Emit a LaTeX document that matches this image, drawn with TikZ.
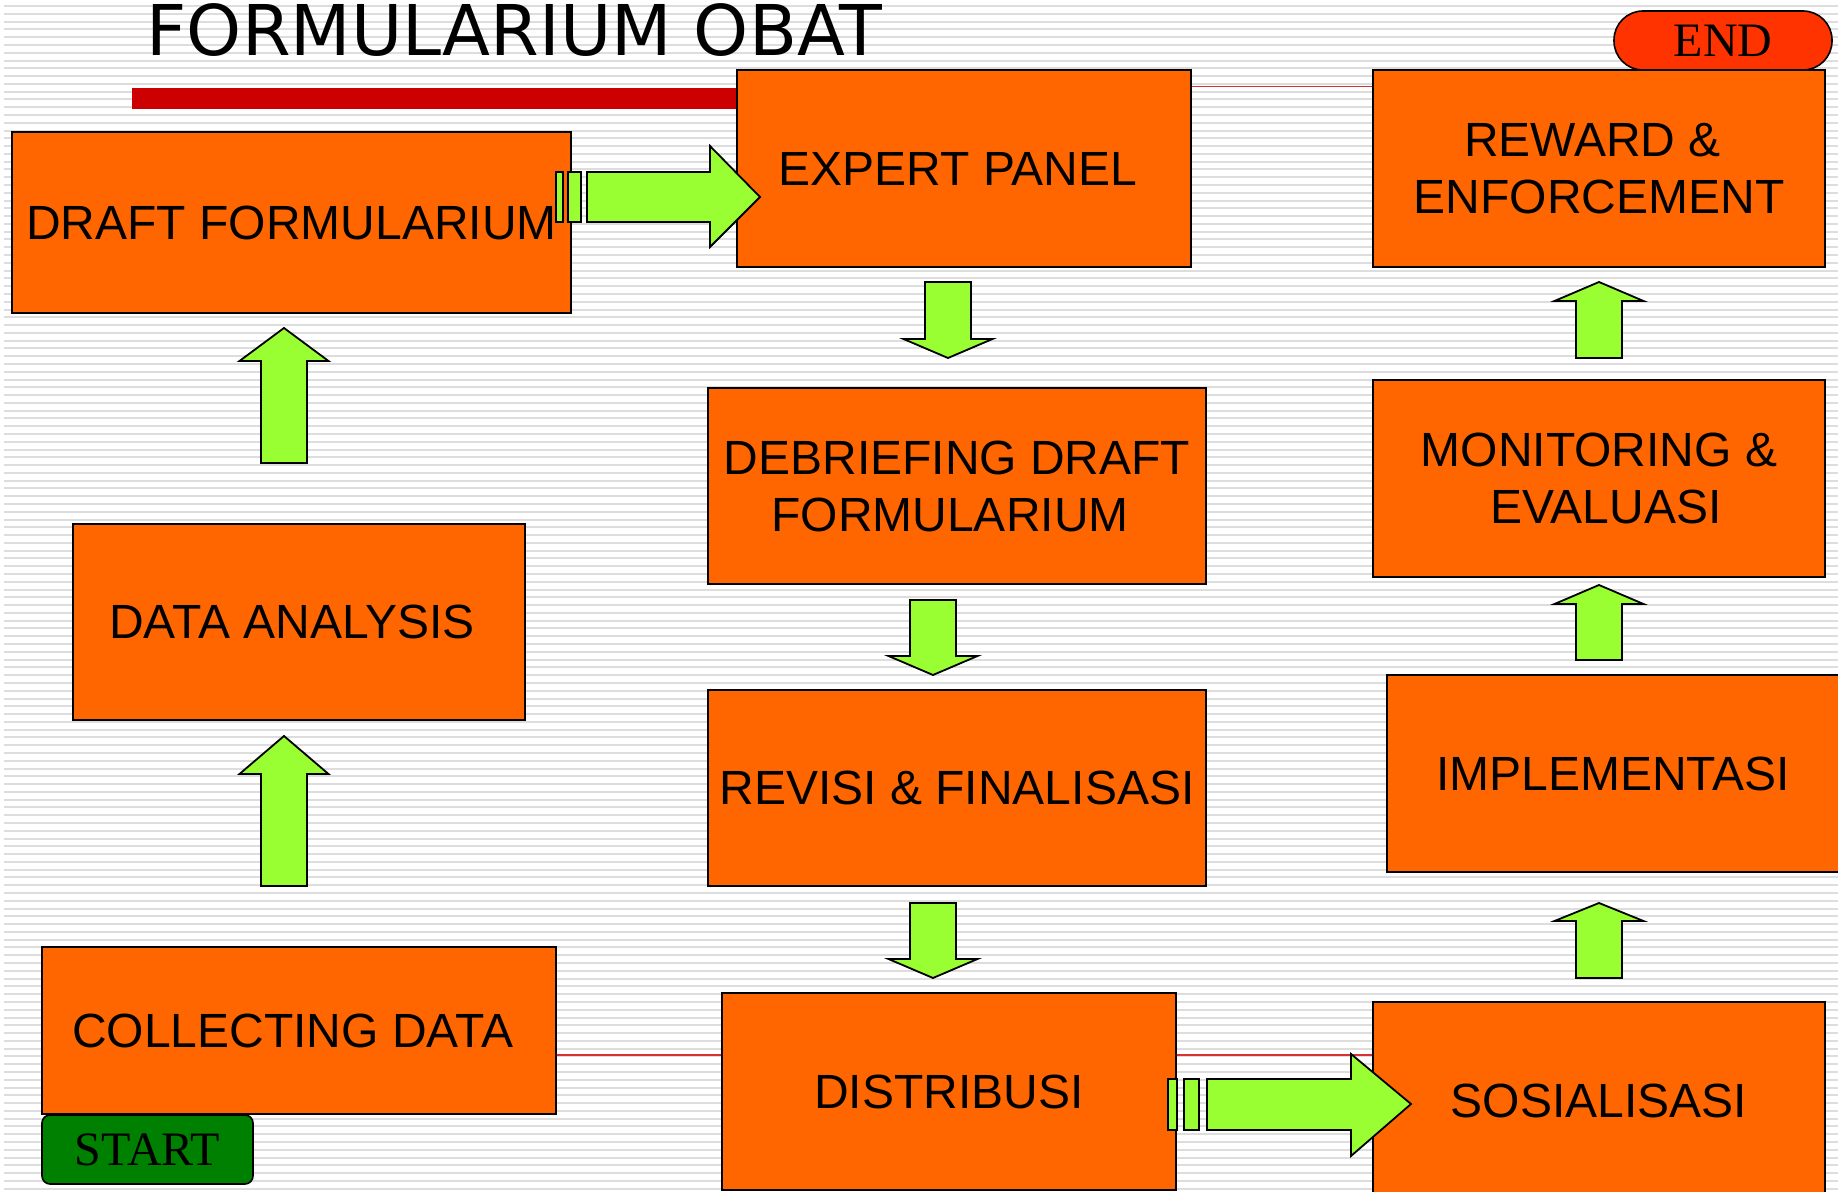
\documentclass[tikz,border=0pt]{standalone}
\usepackage{fontspec}
\setmainfont{Liberation Sans}
\newfontfamily\titlefont{DejaVu Sans}
\newfontfamily\tagfont{Liberation Serif}
\usetikzlibrary{calc}

\definecolor{BoxOrange}{HTML}{FF6600}
\definecolor{ArrowGreen}{HTML}{99FF33}
\definecolor{StartGreen}{HTML}{008000}
\definecolor{EndRed}{HTML}{FF3300}
\definecolor{BarRed}{HTML}{CC0000}
\definecolor{Stripe}{HTML}{DDDDDD}

\begin{document}
\begin{tikzpicture}[x=0.5pt, y=-0.5pt,
  flowbox/.style={draw=black, line width=0.8pt, fill=BoxOrange, align=center, inner sep=0pt,
    font=\fontsize{24}{28.5}\selectfont},
  tagbox/.style={draw=black, line width=0.8pt, inner sep=0pt, font=\tagfont\fontsize{24}{27}\selectfont},
  blockarrow/.style={draw=black, line width=0.9pt, fill=ArrowGreen, line join=miter},
  thinred/.style={draw=BarRed!80, line width=0.6pt}]

  %%%%%%%%%% Page and stripes %%%%%%%%%%
 \useasboundingbox (0,0) rectangle (1838,1192);
 \clip (0,0) rectangle (1838,1192);
 \fill [white] (0,0) rectangle (1838,1192);
 \foreach \i in {0,...,152}
 {
   \draw [Stripe, line width=1pt] (4,{6.1+7.78*\i}) -- (1838,{6.1+7.78*\i});
 }

  %%%%%%%%%% Title %%%%%%%%%%
 \node (title) [anchor=base, inner sep=0pt, font=\titlefont\fontsize{35}{40}\selectfont] at (514.5,56) {FORMULARIUM OBAT};
 \fill [BarRed] (132,88) rectangle (745,109);

  %%%%%%%%%% Boxes %%%%%%%%%%
 \coordinate (lowline) at (0,1055);

 \node (draft) [flowbox, minimum width=279.5pt, minimum height=90.5pt] at (291.5,222.5) {DRAFT FORMULARIUM};
 \node (analysis) [flowbox, minimum width=226pt, minimum height=98pt] at (299,622) {\hspace*{-7pt}DATA ANALYSIS};
 \node (collect) [flowbox, minimum width=257pt, minimum height=83.5pt] at (299,1030.5) {\hspace*{-6.4pt}COLLECTING DATA};
 \node (start) [tagbox, fill=StartGreen, rounded corners=4pt, minimum width=105.5pt, minimum height=34.5pt] at (147.5,1149.5) {START};

 \node (expert) [flowbox, minimum width=227pt, minimum height=98.5pt] at (964,168.5) {\hspace*{-5.9pt}EXPERT PANEL};
 \node (debrief) [flowbox, minimum width=249pt, minimum height=98pt] at (957,486) {DEBRIEFING DRAFT\\\hspace*{-7pt}FORMULARIUM};
 \node (revisi) [flowbox, minimum width=249pt, minimum height=98pt] at (957,788) {REVISI \& FINALISASI};
 \node (distrib) [flowbox, minimum width=227pt, minimum height=98.5pt] at (949,1091.5) {DISTRIBUSI};

 \node (sosial) [flowbox, minimum width=226pt, minimum height=98.5pt] at (1599,1100.5) {SOSIALISASI};
 \node (implement) [flowbox, minimum width=226pt, minimum height=98.5pt] at (1613,773.5) {IMPLEMENTASI};
 \node (monitor) [flowbox, minimum width=226pt, minimum height=98.5pt] at (1599,478.5) {MONITORING \&\\\hspace*{7pt}EVALUASI};
 \node (reward) [flowbox, minimum width=226pt, minimum height=98.5pt] at (1599,168.5) {\hspace*{-6.5pt}REWARD \&\\ENFORCEMENT};
 \node (end) [tagbox, fill=EndRed, rounded corners=14.5pt, minimum width=109pt, minimum height=29.5pt] at (1723,40.5) {END};

  %%%%%%%%%% Thin red lines %%%%%%%%%%
 \draw [thinred] ($(expert.north east)+(0,17)$) -- ($(reward.north west)+(0,17)$);
 \draw [thinred] (collect.east |- lowline) -- (distrib.west |- lowline);
 \draw [thinred] (distrib.east |- lowline) -- (sosial.west |- lowline);

  %%%%%%%%%% Up and down arrows %%%%%%%%%%
 \foreach \xc/\ytip/\yhead/\ytail in {284/328/361/463, 284/736/774/886,
   948/358/339/282, 933/675/656/600, 933/978/959/903,
   1599/282/301/358, 1599/585/604/660, 1599/903/921/978}
 {
   \draw [blockarrow] (\xc-23,\ytail) -- (\xc-23,\yhead) -- (\xc-44.5,\yhead) -- (\xc,\ytip)
     -- (\xc+44.5,\yhead) -- (\xc+23,\yhead) -- (\xc+23,\ytail) -- cycle;
 }

  %%%%%%%%%% Striped right arrows %%%%%%%%%%
 \draw [blockarrow] (556,172) rectangle (563,222);
 \draw [blockarrow] (568,172) rectangle (581,222);
 \draw [blockarrow] (587,172) -- (710,172) -- (710,146) -- (760,197) -- (710,247) -- (710,222) -- (587,222) -- cycle;

 \draw [blockarrow] (1168,1079) rectangle (1177,1130);
 \draw [blockarrow] (1184,1079) rectangle (1199,1130);
 \draw [blockarrow] (1207,1079) -- (1351,1079) -- (1351,1054) -- (1411,1104) -- (1351,1156) -- (1351,1130) -- (1207,1130) -- cycle;

\end{tikzpicture}
\end{document}
